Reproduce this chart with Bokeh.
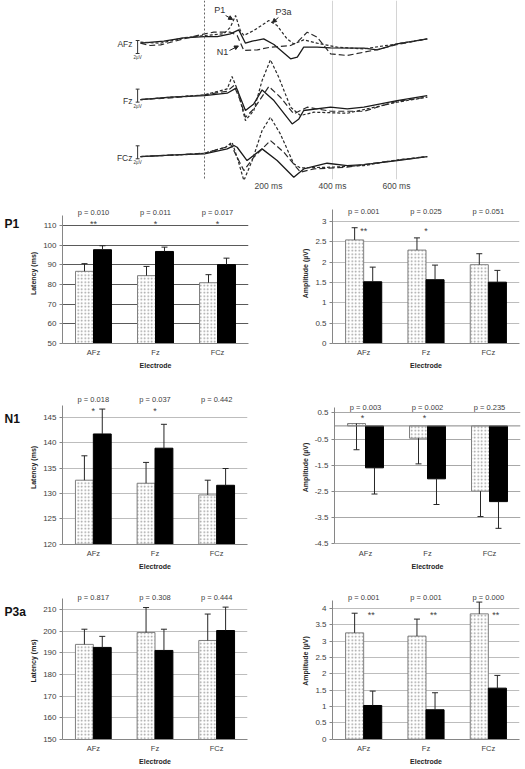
from bokeh.plotting import figure
from bokeh.layouts import column, row
from bokeh.models import (FactorRange, Range1d, FixedTicker, CustomJSTickFormatter,
                          ColumnDataSource, Span, Arrow, NormalHead)
from bokeh.transform import dodge
from bokeh.core.properties import value
from bokeh.embed import file_html
from bokeh.resources import INLINE

FONT = "Liberation Sans"

# ---------------- data ----------------
electrodes = ["AFz", "Fz", "FCz"]
components = ["P1", "N1", "P3a"]

# P1 latency (ms)
p1_lat_a = [86.7, 84.5, 80.9]
p1_lat_a_sd = [3.9, 4.7, 4.1]
p1_lat_b = [97.7, 96.8, 90.1]
p1_lat_b_sd = [2.0, 2.2, 3.3]
p1_lat_p = ["0.010", "0.011", "0.017"]
p1_lat_sig = ["**", "*", "*"]
# P1 amplitude (uV)
p1_amp_a = [2.55, 2.30, 1.94]
p1_amp_a_sd = [0.30, 0.30, 0.27]
p1_amp_b = [1.52, 1.57, 1.51]
p1_amp_b_sd = [0.36, 0.36, 0.29]
p1_amp_p = ["0.001", "0.025", "0.051"]
p1_amp_sig = ["**", "*", ""]
# N1 latency (ms)
n1_lat_a = [132.6, 132.0, 129.7]
n1_lat_a_sd = [4.8, 4.1, 2.9]
n1_lat_b = [141.7, 138.9, 131.6]
n1_lat_b_sd = [4.9, 4.7, 3.3]
n1_lat_p = ["0.018", "0.037", "0.442"]
n1_lat_sig = ["*", "*", ""]
# N1 amplitude (uV)
n1_amp_a = [0.09, -0.47, -2.49]
n1_amp_a_sd = [1.00, 0.98, 0.97]
n1_amp_b = [-1.60, -2.02, -2.89]
n1_amp_b_sd = [1.00, 0.98, 1.02]
n1_amp_p = ["0.003", "0.002", "0.235"]
n1_amp_sig = ["*", "*", ""]
# P3a latency (ms)
p3_lat_a = [193.9, 199.4, 195.7]
p3_lat_a_sd = [7.0, 11.5, 12.2]
p3_lat_b = [192.5, 191.1, 200.3]
p3_lat_b_sd = [5.1, 9.8, 10.8]
p3_lat_p = ["0.817", "0.308", "0.444"]
p3_lat_sig = ["", "", ""]
# P3a amplitude (uV)
p3_amp_a = [3.25, 3.15, 3.83]
p3_amp_a_sd = [0.60, 0.52, 0.36]
p3_amp_b = [1.03, 0.90, 1.56]
p3_amp_b_sd = [0.44, 0.52, 0.39]
p3_amp_p = ["0.001", "0.001", "0.000"]
p3_amp_sig = ["**", "**", "**"]

# Grand-average waveforms (time in ms, amplitude in uV)
afz_solid_t = [-200, -127, -65, 0, 40, 81, 107, 128, 149, 185, 217, 269, 290, 310, 352, 394, 498, 540, 602, 654, 696]
afz_solid_uv = [-0.15, 0.15, 0.67, 0.87, 0.87, 1.28, 1.9, -0.15, 0.15, 0.51, -0.36, -2.56, -2.31, -0.77, -0.77, -0.87, -0.92, -1.18, -0.26, 0.15, 0.51]
afz_dash_t = [-200, -169, -137, -65, 0, 29, 81, 102, 123, 165, 206, 269, 290, 321, 352, 394, 446, 498, 550, 602, 696]
afz_dash_uv = [-0.15, -0.51, -0.41, 0.51, 1.28, 1.54, 1.54, 1.03, -1.28, -1.18, -0.77, -0.51, 0, 1.54, 0.77, -1.79, -2.05, -1.54, -1.03, -0.36, 0.51]
afz_dot_t = [-200, -137, -65, 0, 60, 81, 97, 112, 123, 154, 201, 227, 258, 279, 310, 352, 415, 498, 602, 696]
afz_dot_uv = [0, -0.15, 0.67, 1.03, 1.28, 2.31, 4.10, 1.79, 1.03, 1.79, 3.33, 2.56, 0.51, -0.26, 0.36, -0.15, -0.77, -1.03, -0.26, 0.51]

fz_solid_t = [-200, -106, 0, 71, 100, 128, 154, 180, 217, 274, 295, 310, 394, 446, 498, 602, 696]
fz_solid_uv = [-0.10, 0.26, 0.51, 0.87, 1.69, -1.79, -0.77, 1.38, -0.26, -3.85, -3.08, -1.79, -1.28, -1.54, -1.28, -0.26, 0.51]
fz_dash_t = [-200, -106, 0, 71, 92, 112, 128, 154, 201, 237, 279, 321, 394, 498, 602, 696]
fz_dash_uv = [-0.10, 0.15, 0.62, 1.18, 2.05, -0.26, -2.82, -1.54, 1.90, 0.26, -2.31, -1.28, -1.90, -1.90, -0.36, 0.26]
fz_dot_t = [-200, -106, 0, 71, 86, 102, 128, 154, 180, 206, 232, 269, 300, 342, 446, 602, 696]
fz_dot_uv = [-0.10, 0.26, 0.62, 1.54, 3.44, 1.54, -3.33, -1.79, 2.82, 6.0, 3.33, -1.28, -2.56, -2.05, -2.21, -0.51, 0.26]

fcz_solid_t = [-200, -75, 0, 71, 92, 102, 133, 180, 227, 279, 310, 383, 446, 498, 602, 696]
fcz_solid_uv = [-0.15, 0.15, 0.26, 1.03, 1.54, 1.28, -0.77, 1.03, -0.77, -3.33, -2.05, -1.18, -1.54, -1.38, -0.77, -0.15]
fcz_dash_t = [-200, -75, 0, 66, 81, 102, 123, 154, 206, 248, 300, 342, 446, 550, 696]
fcz_dash_uv = [-0.15, 0.15, 0.36, 1.28, 1.79, -0.26, -2.31, -0.26, 2.31, 0.51, -2.56, -2.05, -1.79, -1.03, -0.15]
fcz_dot_t = [-200, -75, 0, 66, 86, 102, 123, 149, 180, 206, 237, 279, 300, 394, 498, 602, 696]
fcz_dot_uv = [-0.15, 0.10, 0.36, 1.28, 2.05, -0.26, -3.85, -0.77, 3.85, 5.90, 3.33, -1.28, -1.90, -1.79, -1.54, -0.67, -0.15]

wave_ticks = [200, 400, 600]
wave_grid = [400, 600]
wave_labels = ["AFz", "Fz", "FCz"]

# ---------------- waveform panel ----------------
PX_PER_MS = 0.32
PX_PER_UV = 6.5
OFFSET = 8.72
X0_PX, Y0_PX = 204, 41.7     # pixel of (0 ms, 0 uV) for the first electrode
wave = figure(width=525, height=196,
              x_range=Range1d((0 - X0_PX) / PX_PER_MS, (525 - X0_PX) / PX_PER_MS),
              y_range=Range1d((Y0_PX - 179) / PX_PER_UV, (Y0_PX - 0) / PX_PER_UV),
              output_backend="svg", toolbar_location=None, y_axis_location=None,
              min_border_left=0, min_border_right=0, min_border_top=0, min_border_bottom=17)
wave.outline_line_color = None
wave.ygrid.visible = False
wave.xgrid.ticker = FixedTicker(ticks=wave_grid)
wave.xgrid.grid_line_color = "#d4d4d4"
wave.xaxis.ticker = FixedTicker(ticks=wave_ticks)
wave.xaxis.formatter = CustomJSTickFormatter(code="return tick + ' ms'")
wave.xaxis.axis_line_color = None
wave.xaxis.major_tick_line_color = None
wave.xaxis.minor_tick_line_color = None
wave.xaxis.major_tick_out = 0
wave.xaxis.major_label_standoff = 1
wave.xaxis.major_label_text_font_size = "8.5px"
wave.xaxis.major_label_text_color = "#444444"
wave.xaxis.major_label_text_font = FONT

wave.add_layout(Span(location=0, dimension="height", line_color="#666666", line_dash="2 2", line_width=1))

traces = [
    (afz_solid_t, afz_solid_uv, afz_dash_t, afz_dash_uv, afz_dot_t, afz_dot_uv),
    (fz_solid_t, fz_solid_uv, fz_dash_t, fz_dash_uv, fz_dot_t, fz_dot_uv),
    (fcz_solid_t, fcz_solid_uv, fcz_dash_t, fcz_dash_uv, fcz_dot_t, fcz_dot_uv),
]
for k, (st, su, dt, du, ot, ou) in enumerate(traces):
    off = -k * OFFSET
    wave.line(st, [v + off for v in su], line_color="#1a1a1a", line_width=1.3)
    wave.line(dt, [v + off for v in du], line_color="#2a2a2a", line_width=1.2, line_dash="6 3")
    wave.line(ot, [v + off for v in ou], line_color="#2a2a2a", line_width=1.2, line_dash="3 2")
    # electrode label
    wave.text(x=[-225], y=[off - 0.3], text=[wave_labels[k]], text_font=value(FONT),
              text_font_size="8.5px", text_color="#333333", text_align="right", text_baseline="middle")
    # 2 uV scale bar
    top = off + (0.26 if k == 0 else 1.5)
    bot = top - 2.0
    wave.segment(x0=[-209, -215, -215], y0=[top, top, bot], x1=[-209, -203, -203], y1=[bot, top, bot],
                 line_color="#333333", line_width=1)
    wave.text(x=[-209], y=[bot - 0.6], text=["2µV"], text_font=value(FONT), text_font_size="4.5px",
              text_color="#333333", text_align="center", text_baseline="middle")

for txt, tx, ty in [("P1", 48, 4.88), ("P3a", 247, 4.57), ("N1", 56, -1.58)]:
    wave.text(x=[tx], y=[ty], text=[txt], text_font=value(FONT), text_font_size="9px",
              text_color="#333333", text_align="center", text_baseline="middle")
for (xs, ys, xe, ye) in [(66, 4.11, 88, 3.49), (231, 3.8, 212, 3.03), (78, -1.28, 106, -0.58)]:
    wave.add_layout(Arrow(end=NormalHead(size=4, fill_color="#222222", line_color="#222222"),
                          x_start=xs, y_start=ys, x_end=xe, y_end=ye, line_color="#222222", line_width=1))


# ---------------- component name strip ----------------
LABW = 27


def name_strip(fh, fy0, text, label_py):
    s = figure(width=LABW, height=fh, x_range=Range1d(0, LABW), y_range=Range1d(fh, 0),
               output_backend="svg", toolbar_location=None, x_axis_location=None, y_axis_location=None,
               min_border_left=0, min_border_right=0, min_border_top=0, min_border_bottom=0)
    s.outline_line_color = None
    s.grid.visible = False
    s.text(x=[4], y=[label_py - fy0], text=[text], text_font=value(FONT), text_font_size="12px",
           text_font_style="bold", text_color="#111111", text_align="left", text_baseline="middle")
    return s


# ---------------- bar charts ----------------
def bar_chart(fw, fh, fx0, fy0, frame, cal, ticks, ybounds, ylabel, a, a_sd, b, b_sd, base,
              err_dir, pvals, sig, p_py, star_py, star_dx, grid_color, zero_line=False):
    fl, fr, ft, fb = frame
    v1, py1, v2, py2 = cal
    ppu = (py2 - py1) / (v1 - v2)

    def val(py):
        return v1 - (py - py1) / ppu

    p = figure(width=fw, height=fh, x_range=FactorRange(factors=electrodes),
               y_range=Range1d(val(fb), val(ft)), output_backend="svg", toolbar_location=None,
               min_border_left=fl - fx0, min_border_right=fx0 + fw - fr,
               min_border_top=ft - fy0, min_border_bottom=fy0 + fh - fb)
    p.outline_line_color = None
    p.xgrid.visible = False
    p.ygrid.grid_line_color = grid_color
    p.ygrid.grid_line_width = 1

    p.yaxis.ticker = FixedTicker(ticks=ticks)
    p.yaxis.formatter = CustomJSTickFormatter(code="return String(tick)")
    p.yaxis.bounds = ybounds
    p.yaxis.axis_line_color = "#868686"
    p.yaxis.major_tick_line_color = "#868686"
    p.yaxis.major_tick_out = 3
    p.yaxis.major_tick_in = 0
    p.yaxis.minor_tick_line_color = None
    p.yaxis.major_label_standoff = 3
    p.yaxis.major_label_text_font = FONT
    p.yaxis.major_label_text_font_size = "8px"
    p.yaxis.major_label_text_color = "#404040"
    p.yaxis.axis_label = ylabel
    p.yaxis.axis_label_text_font = FONT
    p.yaxis.axis_label_text_font_size = "7px"
    p.yaxis.axis_label_text_font_style = "bold"
    p.yaxis.axis_label_text_color = "#262626"
    p.yaxis.axis_label_standoff = 3

    p.xaxis.axis_line_color = None if zero_line else "#868686"
    p.xaxis.major_tick_line_color = None
    p.xaxis.major_tick_out = 0
    p.xaxis.major_label_standoff = 4
    p.xaxis.major_label_text_font = FONT
    p.xaxis.major_label_text_font_size = "7.5px"
    p.xaxis.major_label_text_color = "#404040"
    p.xaxis.axis_label = "Electrode"
    p.xaxis.axis_label_text_font = FONT
    p.xaxis.axis_label_text_font_size = "7px"
    p.xaxis.axis_label_text_font_style = "bold"
    p.xaxis.axis_label_text_color = "#262626"
    p.xaxis.axis_label_standoff = 2

    if zero_line:
        p.add_layout(Span(location=0, dimension="width", line_color="#868686", line_width=1))

    src = ColumnDataSource(dict(
        e=electrodes, a=a, b=b,
        a_end=[m + err_dir * s for m, s in zip(a, a_sd)],
        b_end=[m + err_dir * s for m, s in zip(b, b_sd)],
        ptxt=["p = " + v for v in pvals], sig=sig))
    xa = dodge("e", -0.145, range=p.x_range)
    xb = dodge("e", 0.145, range=p.x_range)
    p.vbar(x=xa, top="a", bottom=base, width=0.29, source=src, fill_color="white",
           line_color="#7f7f7f", line_width=1, hatch_pattern="dot", hatch_color="#9a9a9a",
           hatch_scale=3.5, hatch_weight=0.9)
    p.vbar(x=xb, top="b", bottom=base, width=0.29, source=src, fill_color="black",
           line_color="black", line_width=1)
    for xx, y0, y1 in [(xa, "a", "a_end"), (xb, "b", "b_end")]:
        p.segment(x0=xx, y0=y0, x1=xx, y1=y1, source=src, line_color="#262626", line_width=1)
        p.scatter(x=xx, y=y1, source=src, marker="dash", size=6, line_color="#262626", line_width=1)

    p.text(x="e", y=val(p_py), text="ptxt", source=src, text_font=value(FONT),
           text_font_size="7.5px", text_color="#404040", text_align="center", text_baseline="middle")
    if star_py is not None:
        p.text(x=dodge("e", star_dx, range=p.x_range), y=val(star_py), text="sig", source=src,
               text_font=value(FONT), text_font_size="9px", text_color="#404040",
               text_align="center", text_baseline="middle")
    return p


LW, RW = 266 - LABW, 259
LX, RX = LABW, 266

p1l = bar_chart(LW, 187, LX, 196, (59, 248, 203, 343), (110, 225, 50, 343),
                [50, 60, 70, 80, 90, 100, 110], (50, 115), "Latency (ms)",
                p1_lat_a, p1_lat_a_sd, p1_lat_b, p1_lat_b_sd, 50, 1, p1_lat_p, p1_lat_sig,
                212, 223, 0.0, "#5a5a5a")
p1r = bar_chart(RW, 187, RX, 196, (332, 519, 203, 352), (3, 222.3, 0, 352),
                [0, 0.5, 1, 1.5, 2, 2.5, 3], (0, 3.3), "Amplitude (µV)",
                p1_amp_a, p1_amp_a_sd, p1_amp_b, p1_amp_b_sd, 0, 1, p1_amp_p, p1_amp_sig,
                212, 232, 0.0, "#bdbdbd")
n1l = bar_chart(LW, 192, LX, 383, (61, 247, 390, 544), (145, 416.7, 120, 543.7),
                [120, 125, 130, 135, 140, 145], (120, 147.3), "Latency (ms)",
                n1_lat_a, n1_lat_a_sd, n1_lat_b, n1_lat_b_sd, 120, 1, n1_lat_p, n1_lat_sig,
                399, 410, 0.0, "#bdbdbd")
n1r = bar_chart(RW, 192, RX, 383, (334, 520, 390, 544), (0.5, 412.3, -4.5, 543.3),
                [0.5, -0.5, -1.5, -2.5, -3.5, -4.5], (-4.5, 0.72), "Amplitude (µV)",
                n1_amp_a, n1_amp_a_sd, n1_amp_b, n1_amp_b_sd, 0, -1, n1_amp_p, n1_amp_sig,
                407, 417, -0.05, "#a8a8a8", zero_line=True)
p3l = bar_chart(LW, 193, LX, 575, (58, 247, 582, 739), (210, 609, 150, 739),
                [150, 160, 170, 180, 190, 200, 210], (150, 215), "Latency (ms)",
                p3_lat_a, p3_lat_a_sd, p3_lat_b, p3_lat_b_sd, 150, 1, p3_lat_p, p3_lat_sig,
                597, None, 0.0, "#bdbdbd")
p3r = bar_chart(RW, 193, RX, 575, (332, 519, 582, 742), (4, 608.3, 0, 741.7),
                [0, 0.5, 1, 1.5, 2, 2.5, 3, 3.5, 4], (0, 4.23), "Amplitude (µV)",
                p3_amp_a, p3_amp_a_sd, p3_amp_b, p3_amp_b_sd, 0, 1, p3_amp_p, p3_amp_sig,
                597.7, 615, 0.12, "#bdbdbd")

s1 = name_strip(187, 196, components[0], 223)
s2 = name_strip(192, 383, components[1], 418)
s3 = name_strip(193, 575, components[2], 611)

layout = column(wave, row(s1, p1l, p1r), row(s2, n1l, n1r), row(s3, p3l, p3r))
open("out.html", "w").write(file_html(layout, INLINE))
